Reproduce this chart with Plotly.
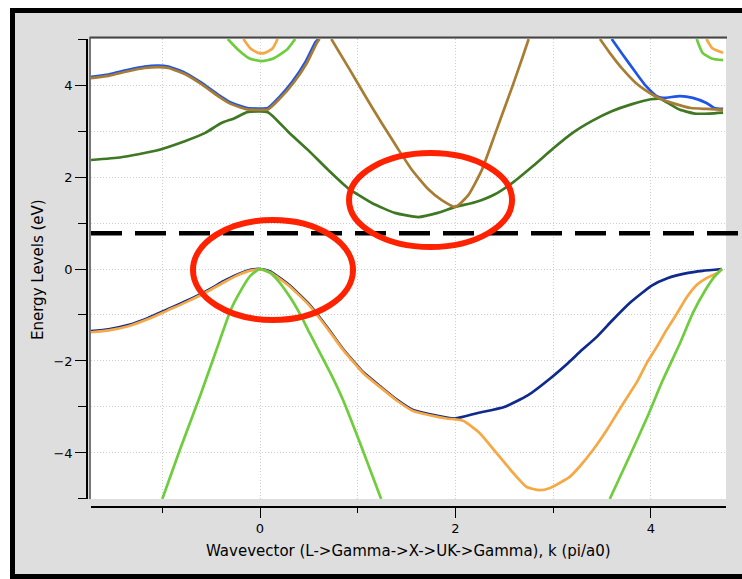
import plotly.graph_objects as go

# Band structure along L -> Gamma -> X -> U,K -> Gamma, k in units of pi/a0, E in eV.
# None separates pieces of a band that leave the energy window.

navy_k = [-1.73, -1.55, -1.35, -1.15, -0.95, -0.75, -0.55, -0.35, -0.20, -0.10, 0.0,
          0.10, 0.18, 0.30, 0.41, 0.50, 0.61, 0.72, 0.85, 1.00, 1.06, 1.23, 1.40, 1.56, 1.74, 1.91, 2.00,
          2.23, 2.50, 2.74, 2.97, 3.14, 3.27, 3.45, 3.61, 3.79, 4.01, 4.17, 4.37, 4.53, 4.73]
navy_e = [-1.35, -1.31, -1.22, -1.07, -0.88, -0.69, -0.48, -0.24, -0.09, -0.02, 0.0,
          -0.05, -0.16, -0.35, -0.57, -0.76, -1.05, -1.36, -1.74, -2.11, -2.25, -2.55, -2.84, -3.06, -3.16, -3.23, -3.25,
          -3.13, -3.00, -2.75, -2.38, -2.07, -1.81, -1.47, -1.11, -0.73, -0.36, -0.20, -0.09, -0.04, 0.0]

orange_k = [-1.73, -1.55, -1.35, -1.15, -0.95, -0.75, -0.55, -0.35, -0.20, -0.10, 0.0,
            0.10, 0.18, 0.30, 0.41, 0.50, 0.61, 0.72, 0.85, 1.00, 1.06, 1.23, 1.40, 1.56, 1.74, 1.91, 2.00,
            2.08, 2.25, 2.42, 2.59, 2.73, 2.86, 2.97, 3.17, 3.27, 3.41, 3.55, 3.71, 3.86, 3.96, 4.06,
            4.16, 4.27, 4.37, 4.47, 4.57, 4.68, 4.73,
            None, -0.17, -0.10, -0.02, 0.05, 0.13, 0.18,
            None, 4.57, 4.63, 4.74]
orange_e = [-1.375, -1.335, -1.245, -1.095, -0.905, -0.715, -0.505, -0.265, -0.11, -0.035, -0.01,
            -0.07, -0.18, -0.37, -0.59, -0.78, -1.07, -1.38, -1.76, -2.13, -2.27, -2.57, -2.86, -3.08, -3.18, -3.25, -3.27,
            -3.30, -3.57, -4.00, -4.43, -4.74, -4.81, -4.76, -4.52, -4.30, -3.93, -3.50, -2.95, -2.45, -2.04, -1.70,
            -1.33, -0.96, -0.61, -0.35, -0.20, -0.09, 0.0,
            None, 5.0, 4.80, 4.70, 4.70, 4.80, 5.0,
            None, 5.0, 4.80, 4.70]

lgreen_k = [-1.00, -0.82, -0.61, -0.41, -0.30, -0.20, -0.10, 0.0, 0.10, 0.18, 0.31, 0.41, 0.51, 0.72, 0.85, 1.05, 1.24,
            None, 3.58, 3.79, 3.96, 4.12, 4.30, 4.43, 4.57, 4.65, 4.73,
            None, -0.33, -0.23, -0.10, 0.02, 0.13, 0.28, 0.36,
            None, 4.47, 4.53, 4.63, 4.74]
lgreen_e = [-5.0, -3.93, -2.74, -1.54, -0.89, -0.48, -0.15, 0.0, -0.08, -0.24, -0.62, -0.98, -1.40, -2.26, -2.85, -3.93, -5.0,
            None, -5.0, -4.04, -3.24, -2.43, -1.61, -0.96, -0.42, -0.17, 0.0,
            None, 5.0, 4.78, 4.57, 4.52, 4.57, 4.78, 5.0,
            None, 5.0, 4.70, 4.57, 4.54]

dgreen_k = [-1.73, -1.42, -1.07, -0.77, -0.56, -0.40, -0.26, -0.13, 0.08, 0.29, 0.49, 0.70, 0.90, 1.15, 1.38,
            1.62, 1.82, 2.00, 2.20, 2.40, 2.60, 2.80, 3.00, 3.20, 3.40, 3.60, 3.80, 4.00, 4.10, 4.20, 4.30,
            4.45, 4.60, 4.74]
dgreen_e = [2.37, 2.43, 2.57, 2.78, 2.96, 3.17, 3.28, 3.41, 3.41, 2.98, 2.59, 2.15, 1.76, 1.43, 1.22,
            1.13, 1.22, 1.35, 1.45, 1.62, 1.90, 2.25, 2.62, 2.96, 3.22, 3.43, 3.58, 3.69, 3.70, 3.58, 3.46,
            3.38, 3.38, 3.40]

brown_k = [-1.73, -1.55, -1.35, -1.18, -1.04, -0.94, -0.77, -0.60, -0.43, -0.30, -0.15, -0.13, 0.08,
           0.20, 0.34, 0.48, 0.58, 0.61,
           None, 0.73, 0.92, 1.10, 1.25, 1.41, 1.55, 1.72, 1.86, 2.00, 2.13, 2.27, 2.40, 2.46, 2.58, 2.69, 2.75,
           None, 3.48, 3.58, 3.71, 3.85, 4.01, 4.08, 4.25, 4.41, 4.58, 4.74]
brown_e = [4.15, 4.20, 4.30, 4.37, 4.39, 4.37, 4.24, 4.02, 3.76, 3.59, 3.48, 3.47, 3.47,
           3.70, 4.04, 4.48, 4.91, 5.0,
           None, 5.0, 4.33, 3.68, 3.16, 2.62, 2.17, 1.74, 1.50, 1.35, 1.60, 2.15, 2.90, 3.25, 3.95, 4.62, 5.0,
           None, 5.0, 4.70, 4.35, 4.04, 3.80, 3.72, 3.59, 3.50, 3.48, 3.46]

blue_k = [-1.73, -1.55, -1.35, -1.18, -1.04, -0.94, -0.77, -0.60, -0.43, -0.30, -0.15, -0.13, 0.08,
          0.19, 0.33, 0.47, 0.57, 0.60,
          None, 3.60, 3.71, 3.85, 3.95, 4.06, 4.12, 4.30, 4.43, 4.57, 4.65, 4.74]
blue_e = [4.18, 4.23, 4.33, 4.40, 4.42, 4.40, 4.27, 4.05, 3.79, 3.62, 3.51, 3.50, 3.50,
          3.72, 4.07, 4.52, 4.94, 5.0,
          None, 5.0, 4.67, 4.26, 3.98, 3.76, 3.72, 3.76, 3.72, 3.61, 3.50, 3.48]

fermi_level = 0.78
x_ticks = [0, 2, 4]
y_ticks = [-4, -2, 0, 2, 4]
x_title = "Wavevector (L->Gamma->X->UK->Gamma), k (pi/a0)"
y_title = "Energy Levels (eV)"

W, H = 742, 579
ML, MR, MT, MB = 87, 16, 39, 72
PW, PH = W - ML - MR, H - MT - MB


def xp(px):
    return (px - ML) / PW


def yp(py):
    return (H - MB - py) / PH


bands = [
    (navy_k, navy_e, "#0e2a8c"),
    (blue_k, blue_e, "#1e55e6"),
    (orange_k, orange_e, "#f5a843"),
    (lgreen_k, lgreen_e, "#6ecd3c"),
    (dgreen_k, dgreen_e, "#3e7823"),
    (brown_k, brown_e, "#a97c33"),
]

fig = go.Figure()
for k, e, c in bands:
    fig.add_trace(go.Scatter(x=k, y=e, mode="lines",
                             line=dict(color=c, width=2.7, shape="spline", smoothing=0.5),
                             connectgaps=False, hoverinfo="skip", showlegend=False))

grid = "rgb(206,206,206)"
font = "DejaVu Sans"

fig.update_layout(
    width=W, height=H,
    margin=dict(l=ML, r=MR, t=MT, b=MB, pad=0),
    paper_bgcolor="#dedede",
    plot_bgcolor="white",
    showlegend=False,
    font=dict(family=font, size=13, color="black"),
    xaxis=dict(
        domain=[xp(91), 1], anchor="free", position=0,
        range=[-1.73, 4.77], tickvals=x_ticks, ticks="outside", ticklen=10,
        tickwidth=1, tickcolor="black", showline=True, linecolor="black", linewidth=1.5,
        showgrid=True, gridcolor=grid, gridwidth=1, griddash="1px,2px", zeroline=False,
        tickfont=dict(family=font, size=13),
        minor=dict(dtick=1, tick0=0, ticks="outside", ticklen=5, tickcolor="black", tickwidth=1,
                   showgrid=True, gridcolor=grid, gridwidth=1, griddash="1px,2px"),
    ),
    yaxis=dict(
        domain=[yp(499), 1], anchor="free", position=0,
        range=[-5.001, 5.001], tickvals=y_ticks, ticks="outside", ticklen=11,
        tickwidth=1, tickcolor="black", showline=True, linecolor="black", linewidth=1.5,
        showgrid=True, gridcolor=grid, gridwidth=1, griddash="1px,2px", zeroline=False,
        tickfont=dict(family=font, size=13),
        minor=dict(dtick=1, tick0=0, ticks="outside", ticklen=8, tickcolor="black", tickwidth=1,
                   showgrid=True, gridcolor=grid, gridwidth=1, griddash="1px,2px"),
    ),
)

shapes = [
    # outer white strips and black frame of the panel
    dict(type="rect", xref="paper", yref="paper", x0=xp(0), x1=xp(10), y0=yp(H), y1=yp(0),
         fillcolor="white", line=dict(width=0)),
    dict(type="rect", xref="paper", yref="paper", x0=xp(0), x1=xp(W), y0=yp(8), y1=yp(0),
         fillcolor="white", line=dict(width=0)),
    dict(type="line", xref="paper", yref="paper", x0=xp(12.5), x1=xp(12.5), y0=yp(8), y1=yp(H),
         line=dict(color="black", width=5)),
    dict(type="line", xref="paper", yref="paper", x0=xp(10), x1=xp(W), y0=yp(10.5), y1=yp(10.5),
         line=dict(color="black", width=5)),
    dict(type="line", xref="paper", yref="paper", x0=xp(10), x1=xp(W), y0=yp(576.5), y1=yp(576.5),
         line=dict(color="black", width=5)),
    # plot frame edges
    dict(type="line", xref="paper", yref="paper", x0=xp(89.5), x1=xp(727), y0=yp(37.5), y1=yp(37.5),
         line=dict(color="#444444", width=2)),
    dict(type="line", xref="paper", yref="paper", x0=xp(90), x1=xp(90), y0=yp(499), y1=yp(37.5),
         line=dict(color="#555555", width=1.5)),
    # Fermi level
    dict(type="line", xref="paper", yref="y", x0=xp(91), x1=xp(W), y0=fermi_level, y1=fermi_level,
         line=dict(color="black", width=4.5, dash="31px,13px")),
    # highlighted band edges
    dict(type="circle", xref="x", yref="y", x0=-0.686, x1=0.952, y0=-1.109, y1=1.065,
         line=dict(color="#ff2200", width=6)),
    dict(type="circle", xref="x", yref="y", x0=0.911, x1=2.580, y0=0.478, y1=2.522,
         line=dict(color="#ff2200", width=6)),
]
fig.update_layout(shapes=shapes)

fig.add_annotation(text=x_title, xref="paper", yref="paper", x=xp(409), y=yp(551),
                   xanchor="center", yanchor="middle", showarrow=False,
                   font=dict(family=font, size=15, color="black"))
fig.add_annotation(text=y_title, xref="paper", yref="paper", x=xp(38), y=yp(270),
                   xanchor="center", yanchor="middle", showarrow=False, textangle=-90,
                   font=dict(family=font, size=15, color="black"))

fig.write_html("out.html")
